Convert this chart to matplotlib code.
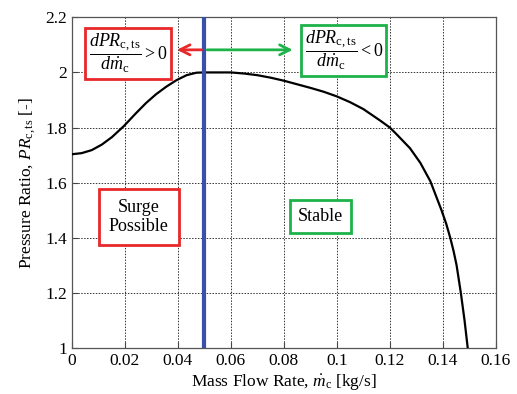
import matplotlib
matplotlib.use("Agg")
import matplotlib.pyplot as plt
import numpy as np

plt.rcParams['font.family'] = ['Liberation Serif', 'DejaVu Serif']
plt.rcParams['mathtext.fontset'] = 'custom'
plt.rcParams['mathtext.rm'] = 'Liberation Serif'
plt.rcParams['mathtext.it'] = 'Liberation Serif:italic'
plt.rcParams['mathtext.bf'] = 'Liberation Serif:bold'

mass_flow = [0, 0.0037, 0.0075, 0.0113, 0.0151, 0.0196, 0.0241, 0.028, 0.0318,
             0.0356, 0.0395, 0.0433, 0.047, 0.05, 0.055, 0.06, 0.065, 0.07, 0.075,
             0.08, 0.085, 0.09, 0.095, 0.1, 0.105, 0.11, 0.1164, 0.12, 0.1226,
             0.1276, 0.1315, 0.1353, 0.1395, 0.1413, 0.1428, 0.1441, 0.1452,
             0.1468, 0.1482, 0.1494]
pressure_ratio = [1.703, 1.707, 1.718, 1.738, 1.765, 1.805, 1.851, 1.889, 1.921,
                  1.948, 1.972, 1.99, 1.999, 2.0, 2.0, 2.0, 1.996, 1.99, 1.981,
                  1.97, 1.957, 1.944, 1.93, 1.913, 1.892, 1.867, 1.825, 1.80, 1.775,
                  1.725, 1.672, 1.605, 1.50, 1.45, 1.40, 1.35, 1.30,
                  1.20, 1.10, 1.0]
surge_line = 0.05
x_ticks = [0, 0.02, 0.04, 0.06, 0.08, 0.1, 0.12, 0.14, 0.16]
y_ticks = [1, 1.2, 1.4, 1.6, 1.8, 2, 2.2]

RED = '#e8282a'
GREEN = '#1db34a'
BLUE = '#3a4fa8'

fig = plt.figure(figsize=(5.17, 3.94), dpi=100)
ax = fig.add_axes([0.139, 0.117, 0.820, 0.839])

ax.plot(mass_flow, pressure_ratio, color='black', lw=1.6, zorder=3,
        solid_joinstyle='round')
ax.axvline(surge_line, color=BLUE, lw=3, zorder=4)

ax.set_xlim(0, 0.16)
ax.set_ylim(1, 2.2)
ax.set_xticks(x_ticks)
ax.set_yticks(y_ticks)
ax.set_xticklabels(['%g' % v for v in x_ticks])
ax.set_yticklabels(['%g' % v for v in y_ticks])
ax.tick_params(direction='in', labelsize=12.5, length=4, color='#444444')
ax.grid(True, linestyle=(0, (1.5, 1.5)), color='#333333', lw=0.7)
for s in ax.spines.values():
    s.set_color('#555555')
    s.set_linewidth(0.9)

ax.set_xlabel(r'Mass Flow Rate, $\dot{m}_{\mathrm{c}}$ [kg/s]', fontsize=12.5, labelpad=3)
ax.set_ylabel(r'Pressure Ratio, $PR_{\mathrm{c,ts}}$ [-]', fontsize=12.5, labelpad=5)

# arrows
ax.annotate('', xy=(0.0386, 2.082), xytext=(surge_line, 2.082),
            arrowprops=dict(arrowstyle='->', color=RED, lw=2, mutation_scale=18), zorder=5)
ax.annotate('', xy=(0.0844, 2.082), xytext=(surge_line, 2.082),
            arrowprops=dict(arrowstyle='->', color=GREEN, lw=2, mutation_scale=18), zorder=5)

ax.text(0.0212, 2.069, r'$\dfrac{dPR_{\mathrm{c,ts}}}{d\dot{m}_{\mathrm{c}}} > 0$',
        ha='center', va='center', fontsize=13, zorder=6,
        bbox=dict(boxstyle='square,pad=0.2', fc='white', ec=RED, lw=2))
ax.text(0.1026, 2.08, r'$\dfrac{dPR_{\mathrm{c,ts}}}{d\dot{m}_{\mathrm{c}}} < 0$',
        ha='center', va='center', fontsize=13, zorder=6,
        bbox=dict(boxstyle='square,pad=0.2', fc='white', ec=GREEN, lw=2))

ax.text(0.0253, 1.476, 'Surge\nPossible', ha='center', va='center', fontsize=13,
        linespacing=1.15, zorder=6,
        bbox=dict(boxstyle='square,pad=0.55', fc='white', ec=RED, lw=2))
ax.text(0.0938, 1.476, 'Stable', ha='center', va='center', fontsize=13, zorder=6,
        bbox=dict(boxstyle='square,pad=0.45', fc='white', ec=GREEN, lw=2))

fig.savefig('out.png', dpi=100)
